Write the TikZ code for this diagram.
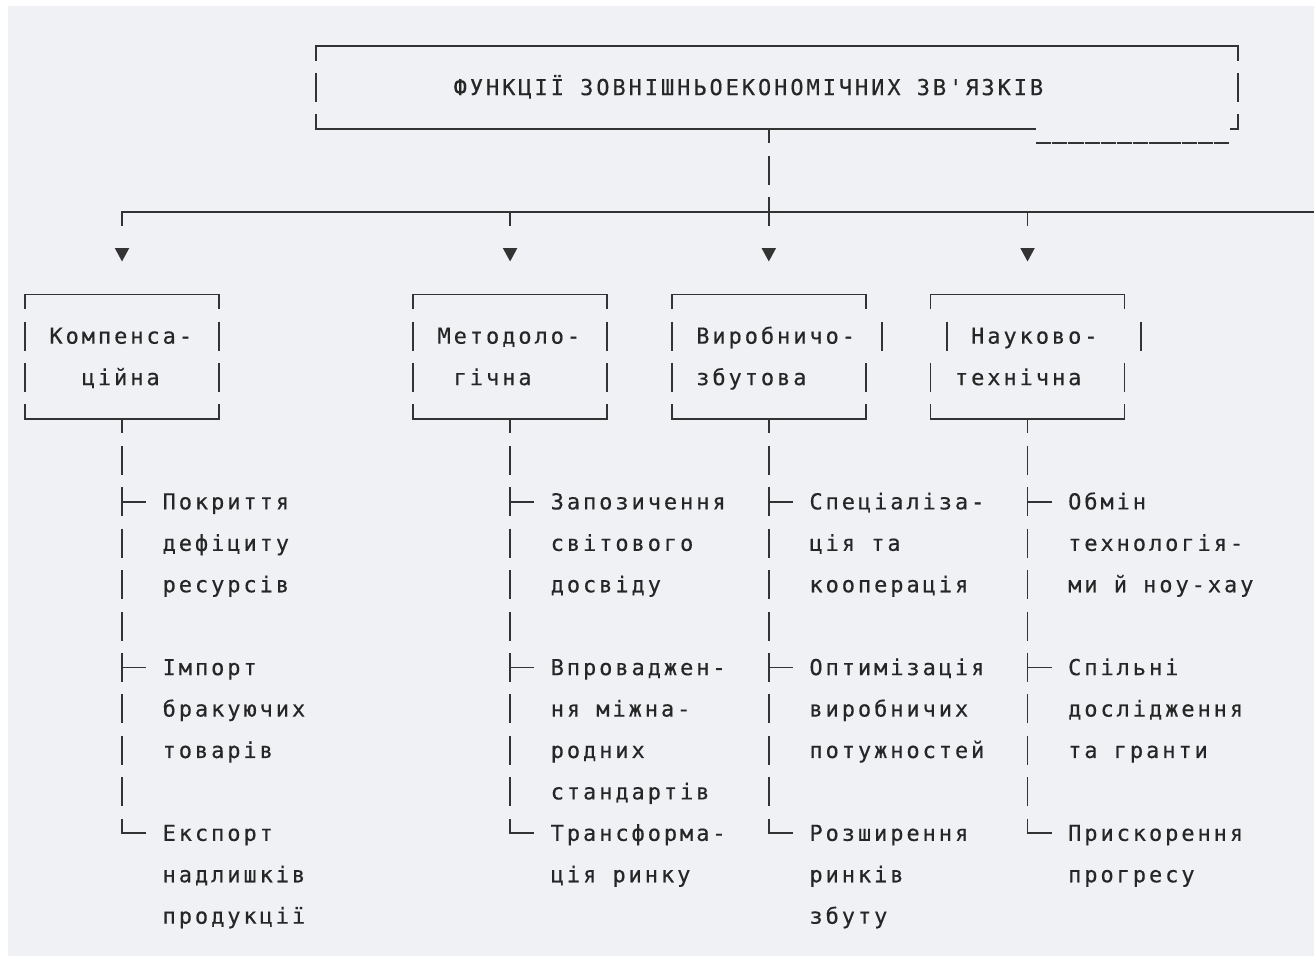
\documentclass[tikz,border=0pt]{standalone}
\usepackage{fontspec}
\newfontfamily\mono[LetterSpace=13.3,Ligatures=TeXOff,FakeBold=0.35]{DejaVu Sans Mono}
\definecolor{bg}{RGB}{240,241,245}
\definecolor{lc}{RGB}{51,51,51}
\definecolor{tc}{RGB}{38,38,38}
\newcommand\tx[4]{\node[txt] (#1) at ({#2-0.5},{#3+0.185}) {#4};}
\newcommand\vs[2]{\draw[ln] (#1,{#2-0.35}) -- (#1,{#2+0.35});}
\newcommand\tri[2]{\fill[lc] ({#1-0.45},4.876) -- ({#1+0.45},4.876) -- (#1,5.2) -- cycle;}
\begin{document}
\begin{tikzpicture}[x=16.17pt,y=-41.43pt,
  ln/.style={draw=lc,line width=1.8pt},
  txt/.style={font={\mono\fontsize{22pt}{22pt}\selectfont},text=tc,anchor=base west,inner sep=0pt}]
\useasboundingbox (-1.5461,-1.1103) rectangle (79.716,22.1096);
\fill[white] (-1.5461,-1.1103) rectangle (79.716,22.1096);
\fill[bg] (-1.0513,-0.9655) rectangle (79.716,21.965);
% title box
\draw[ln] (18,0.35) -- (18,0) -- (75,0) -- (75,0.35);
\vs{18}{1} \vs{75}{1}
\draw[ln] (18,1.65) -- (18,2) -- (62.5,2);
\draw[ln] (75,1.65) -- (75,2) -- (74.5,2);
\foreach \c in {63,...,74} \draw[ln] ({\c-0.47},2.334) -- ({\c+0.47},2.334);
\tx{title}{27}{1}{ФУНКЦІЇ ЗОВНІШНЬОЕКОНОМІЧНИХ ЗВ'ЯЗКІВ}
% stem and bus
\coordinate (stem) at (46,2);
\draw[ln] (stem) -- (46,2.35);
\vs{46}{3}
\coordinate (bus) at (6,4);
\draw[ln] (6,4.35) -- (bus) -- (79.8,4);
\draw[ln] (30,4) -- (30,4.35);
\draw[ln] (46,3.65) -- (46,4.35);
\draw[ln] (62,4) -- (62,4.35);
\tri{6}{5} \tri{30}{5} \tri{46}{5} \tri{62}{5}
% boxes: L R L7 R7 L8 R8 M
\foreach \L/\R/\La/\Ra/\Lb/\Rb/\M in {0/12/0/12/0/12/6, 24/36/24/36/24/36/30, 40/52/40/53/40/52/46, 56/68/57/69/56/68/62}{
  \draw[ln] (\L,6.35) -- (\L,6) -- (\R,6) -- (\R,6.35);
  \vs{\La}{7} \vs{\Ra}{7} \vs{\Lb}{8} \vs{\Rb}{8}
  \draw[ln] (\L,8.65) -- (\L,9) -- (\R,9) -- (\R,8.65);
  \draw[ln] (\M,9) -- (\M,9.35);
  \foreach \r in {10,11,12,13,14,15,16,17,18} \vs{\M}{\r}
  \draw[ln] (\M,11) -- ({\M+1.5},11);
  \draw[ln] (\M,15) -- ({\M+1.5},15);
  \draw[ln] (\M,18.65) -- (\M,19) -- ({\M+1.5},19);
}
\tx{b1a}{2}{7}{Компенса-}
\tx{b1b}{4}{8}{ційна}
\tx{b2a}{26}{7}{Методоло-}
\tx{b2b}{27}{8}{гічна}
\tx{b3a}{42}{7}{Виробничо-}
\tx{b3b}{42}{8}{збутова}
\tx{b4a}{59}{7}{Науково-}
\tx{b4b}{58}{8}{технічна}
% column 1
\tx{a11}{9}{11}{Покриття}
\tx{a12}{9}{12}{дефіциту}
\tx{a13}{9}{13}{ресурсів}
\tx{a15}{9}{15}{Імпорт}
\tx{a16}{9}{16}{бракуючих}
\tx{a17}{9}{17}{товарів}
\tx{a19}{9}{19}{Експорт}
\tx{a20}{9}{20}{надлишків}
\tx{a21}{9}{21}{продукції}
% column 2
\tx{c11}{33}{11}{Запозичення}
\tx{c12}{33}{12}{світового}
\tx{c13}{33}{13}{досвіду}
\tx{c15}{33}{15}{Впроваджен-}
\tx{c16}{33}{16}{ня міжна-}
\tx{c17}{33}{17}{родних}
\tx{c18}{33}{18}{стандартів}
\tx{c19}{33}{19}{Трансформа-}
\tx{c20}{33}{20}{ція ринку}
% column 3
\tx{d11}{49}{11}{Спеціаліза-}
\tx{d12}{49}{12}{ція та}
\tx{d13}{49}{13}{кооперація}
\tx{d15}{49}{15}{Оптимізація}
\tx{d16}{49}{16}{виробничих}
\tx{d17}{49}{17}{потужностей}
\tx{d19}{49}{19}{Розширення}
\tx{d20}{49}{20}{ринків}
\tx{d21}{49}{21}{збуту}
% column 4
\tx{e11}{65}{11}{Обмін}
\tx{e12}{65}{12}{технологія-}
\tx{e13}{65}{13}{ми й ноу-хау}
\tx{e15}{65}{15}{Спільні}
\tx{e16}{65}{16}{дослідження}
\tx{e17}{65}{17}{та гранти}
\tx{e19}{65}{19}{Прискорення}
\tx{e20}{65}{20}{прогресу}
\end{tikzpicture}
\end{document}
